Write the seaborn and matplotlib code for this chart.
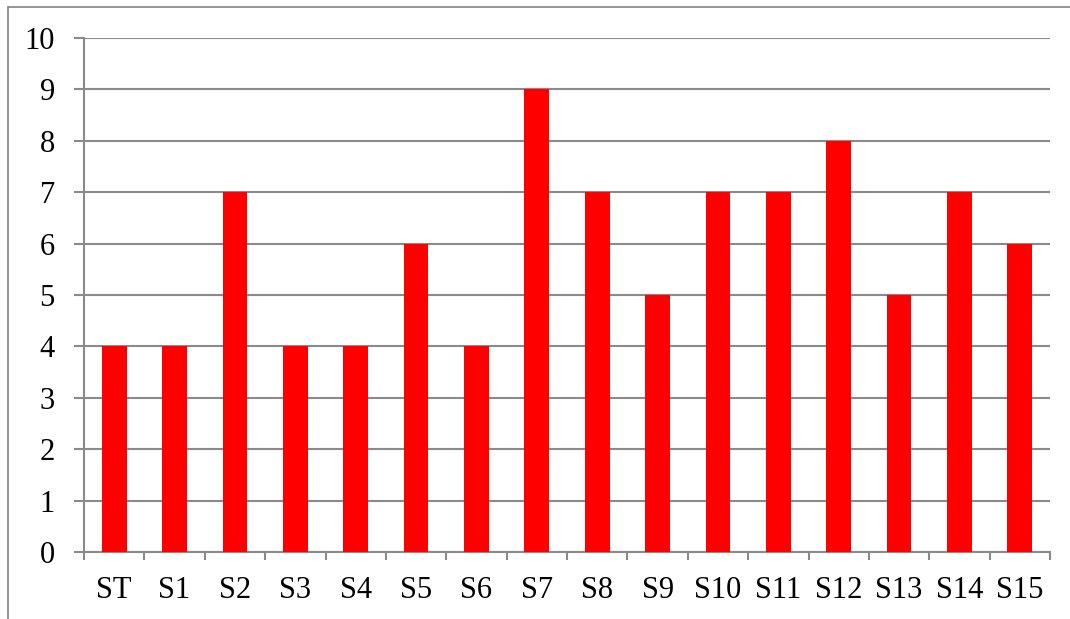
import matplotlib
matplotlib.use("Agg")
import matplotlib.pyplot as plt
import seaborn as sns
import pandas as pd
from matplotlib.lines import Line2D

categories = ["ST", "S1", "S2", "S3", "S4", "S5", "S6", "S7",
              "S8", "S9", "S10", "S11", "S12", "S13", "S14", "S15"]
values = [4, 4, 7, 4, 4, 6, 4, 9, 7, 5, 7, 7, 8, 5, 7, 6]
y_ticks = [0, 1, 2, 3, 4, 5, 6, 7, 8, 9, 10]

sns.set_theme(style="white")
plt.rcParams["font.family"] = ["Liberation Serif", "DejaVu Serif"]

df = pd.DataFrame({"cat": categories, "val": values})

W, H = 1070, 619
fig = plt.figure(figsize=(W / 100, H / 100), dpi=100)
ax = fig.add_axes([84 / W, 1 - 552 / H, (1050 - 84) / W, (552 - 38) / H])

grid_col = "#8a8a8a"
sns.barplot(data=df, x="cat", y="val", color="#ff0000", saturation=1,
            width=0.41, linewidth=0, edgecolor="none", ax=ax, zorder=3)

ax.set_ylim(0, 10)
ax.set_xlim(-0.5, len(categories) - 0.5)
ax.set_yticks(y_ticks)
ax.set_yticklabels([str(t) for t in y_ticks])
ax.set_xlabel("")
ax.set_ylabel("")

ax.yaxis.grid(True, color=grid_col, linewidth=1.5, zorder=0)
ax.set_axisbelow(True)

for s in ["top", "right"]:
    ax.spines[s].set_visible(False)
for s in ["left", "bottom"]:
    ax.spines[s].set_color(grid_col)
    ax.spines[s].set_linewidth(1.5)

# category boundary ticks on the x axis
ax.set_xticks([i - 0.5 for i in range(len(categories) + 1)], minor=True)
ax.tick_params(axis="x", which="minor", bottom=True, length=6,
               width=1.5, color=grid_col)
ax.tick_params(axis="x", which="major", bottom=False, length=0,
               pad=17, labelsize=22, labelcolor="black")
ax.tick_params(axis="y", which="major", left=True, length=7, width=1.5,
               color=grid_col, pad=14, labelsize=22, labelcolor="black")

# outer frame
fig.add_artist(Line2D([8 / W, 8 / W], [0, 1 - 7 / H], transform=fig.transFigure,
                      color="#8c8c8c", linewidth=1.3))
fig.add_artist(Line2D([8 / W, 1], [1 - 7 / H, 1 - 7 / H], transform=fig.transFigure,
                      color="#8c8c8c", linewidth=1.3))

fig.savefig("out.png", dpi=100)
